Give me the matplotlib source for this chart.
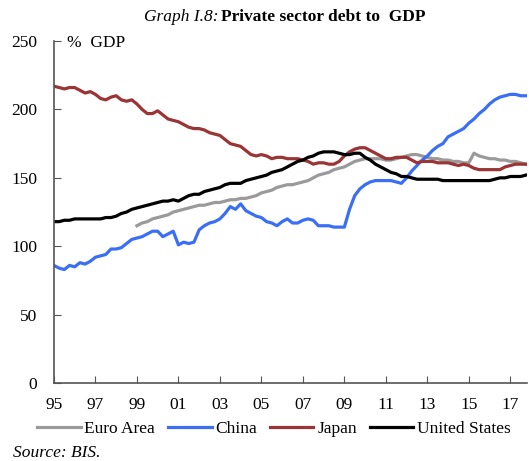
import numpy as np
import matplotlib.pyplot as plt

plt.rcParams['font.family'] = ['Liberation Serif', 'DejaVu Serif']

# quarterly, 1995Q1 .. 2017Q4
japan = [217, 216, 215, 216, 216, 214, 212, 213, 211, 208, 207, 209,
         210, 207, 206, 207, 204, 200, 197, 197, 199, 196, 193, 192,
         191, 189, 187, 186, 186, 185, 183, 182, 181, 178, 175, 174,
         173, 170, 167, 166, 167, 166, 164, 165, 165, 164, 164, 164,
         163, 162, 160, 161, 161, 160, 160, 162, 166, 169, 171, 172,
         172, 170, 168, 166, 164, 164, 165, 165, 165, 163, 161, 162,
         162, 162, 161, 161, 161, 160, 159, 160, 159, 157, 156, 156,
         156, 156, 156, 158, 159, 160, 160, 160]
china = [86, 84, 83, 86, 85, 88, 87, 89, 92, 93, 94, 98,
         98, 99, 102, 105, 106, 107, 109, 111, 111, 107, 109, 111,
         101, 103, 102, 103, 112, 115, 117, 118, 120, 124, 129, 127,
         131, 126, 124, 122, 121, 118, 117, 115, 118, 120, 117, 117,
         119, 120, 119, 115, 115, 115, 114, 114, 114, 127, 137, 142,
         145, 147, 148, 148, 148, 148, 147, 146, 150, 155, 159, 163,
         166, 170, 173, 175, 180, 182, 184, 186, 190, 193, 197, 200,
         204, 207, 209, 210, 211, 211, 210, 210]
us = [118, 118, 119, 119, 120, 120, 120, 120, 120, 120, 121, 121,
      122, 124, 125, 127, 128, 129, 130, 131, 132, 133, 133, 134,
      133, 135, 137, 138, 138, 140, 141, 142, 143, 145, 146, 146,
      146, 148, 149, 150, 151, 152, 154, 155, 156, 158, 160, 162,
      163, 165, 166, 168, 169, 169, 169, 168, 167, 167, 168, 168,
      165, 163, 160, 158, 156, 154, 153, 151, 151, 150, 149, 149,
      149, 149, 149, 148, 148, 148, 148, 148, 148, 148, 148, 148,
      148, 149, 150, 150, 151, 151, 151, 152]
# euro area starts 1999Q1
euro = [115, 117, 118, 120, 121, 122, 123, 125, 126, 127, 128, 129,
        130, 130, 131, 132, 132, 133, 134, 134, 135, 135, 136, 137,
        139, 140, 141, 143, 144, 145, 145, 146, 147, 148, 150, 152,
        153, 154, 156, 157, 158, 160, 162, 163, 164, 164, 164, 164,
        163, 163, 164, 165, 166, 167, 167, 166, 165, 164, 164, 163,
        163, 162, 162, 161, 161, 168, 166, 165, 164, 164, 163, 163,
        162, 162, 161, 160]

years = 1995 + np.arange(len(japan)) / 4
years_euro = 1999 + np.arange(len(euro)) / 4
xticks = np.arange(1995, 2018, 2)
xlabels = ['%02d' % (y % 100) for y in xticks]

fs = 12.5

fig = plt.figure(figsize=(5.29, 4.61), dpi=100)
ax = fig.add_axes([0.102, 0.169, 0.894, 0.742])

ax.plot(years_euro, euro, color='#9a9a9a', lw=2.3, label='Euro Area')
ax.plot(years, china, color='#3a6ff5', lw=2.3, label='China')
ax.plot(years, japan, color='#9b3535', lw=2.3, label='Japan')
ax.plot(years, us, color='black', lw=2.3, label='United States')

ax.set_xlim(1995, 2017.8)
ax.set_ylim(0, 250)
ax.set_yticks([0, 50, 100, 150, 200, 250])
ax.set_xticks(xticks)
ax.set_xticklabels(xlabels)
ax.tick_params(direction='in', length=5, labelsize=fs, color='#555555')
ax.tick_params(axis='x', pad=10)
ax.tick_params(axis='y', pad=12)
for s in ['top', 'right']:
    ax.spines[s].set_visible(False)
for s in ['left', 'bottom']:
    ax.spines[s].set_color('#555555')
    ax.spines[s].set_linewidth(1.2)

ax.text(0.027, 0.994, '%  GDP', transform=ax.transAxes, fontsize=fs,
        ha='left', va='center')

fig.text(0.413, 0.963, 'Graph I.8:', style='italic', fontsize=fs,
         ha='right', va='center')
fig.text(0.417, 0.963, 'Private sector debt to  GDP', weight='bold',
         fontsize=fs, ha='left', va='center')

fig.legend(loc='center', bbox_to_anchor=(0.518, 0.069), ncol=4, frameon=False,
           fontsize=fs, handlelength=2.5, handletextpad=0.22, columnspacing=0.75)

fig.text(0.025, 0.018, 'Source: BIS.', style='italic', fontsize=fs,
         ha='left', va='center')

fig.savefig('out.png', dpi=100)
